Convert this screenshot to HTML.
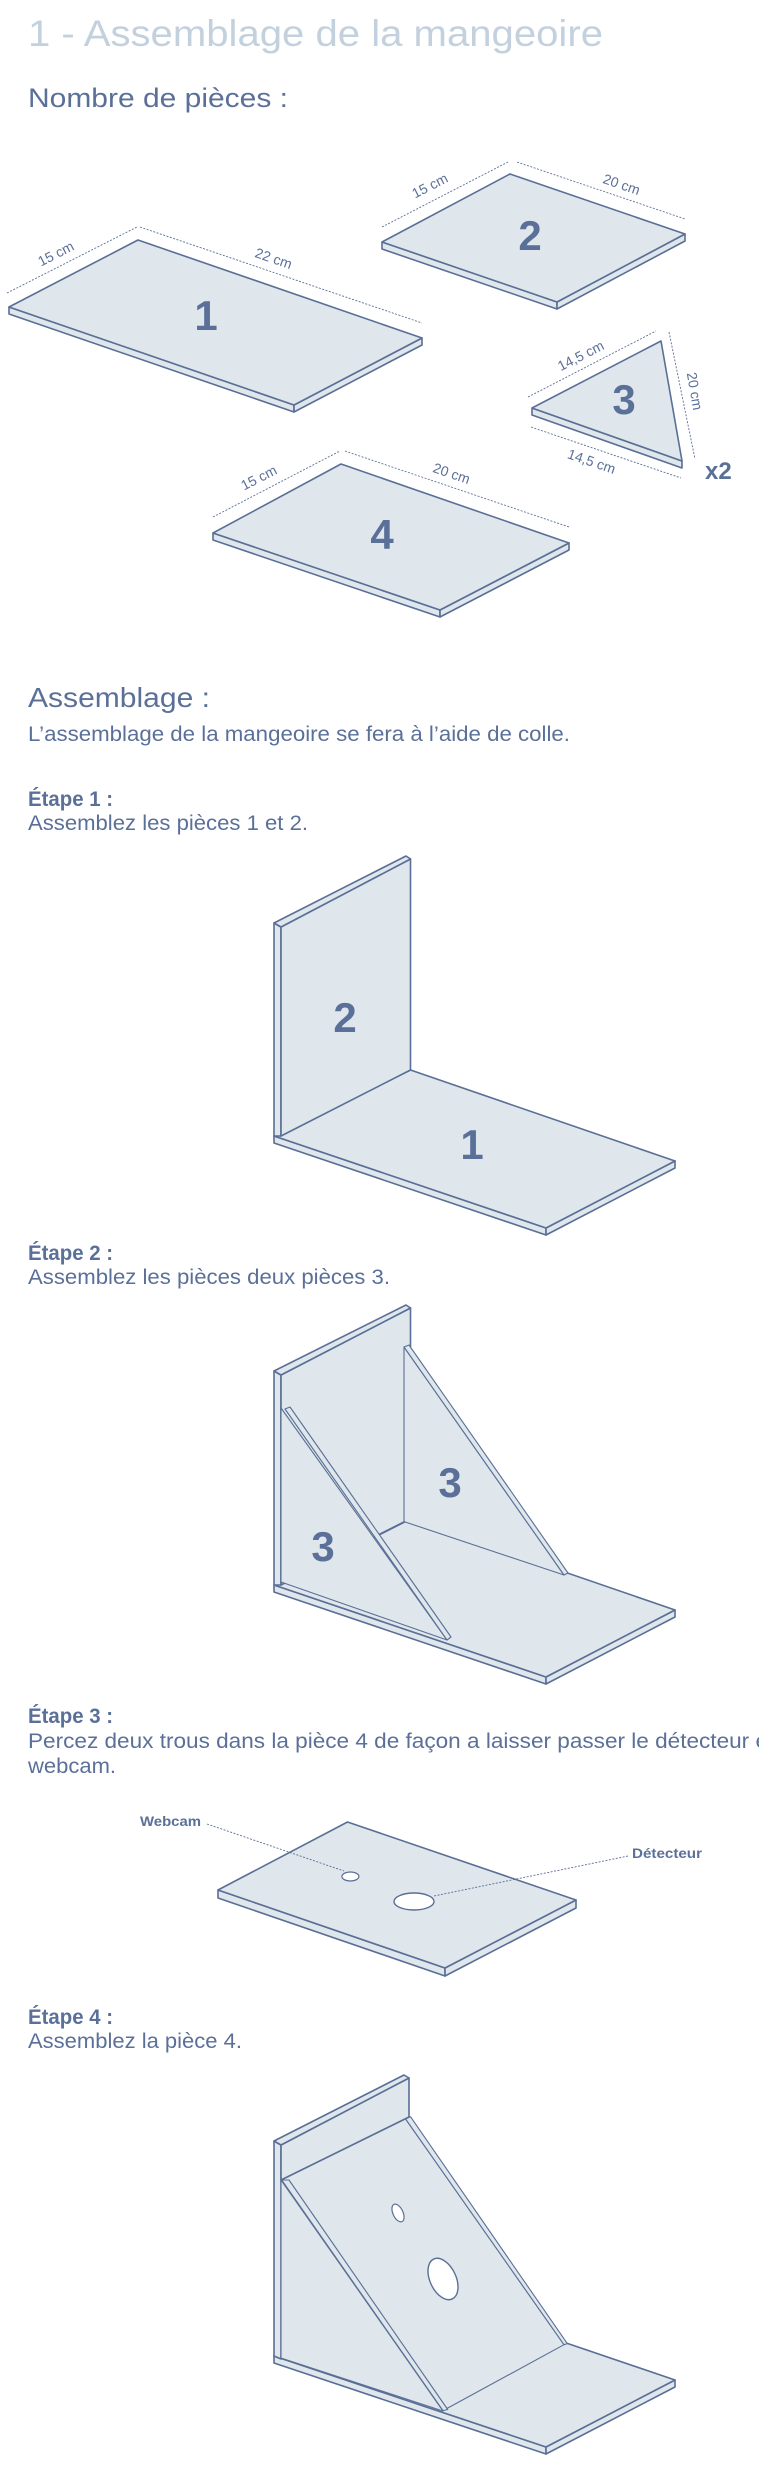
<!DOCTYPE html>
<html><head><meta charset="utf-8"><style>
html,body{margin:0;padding:0;background:#fff;}
svg{display:block;}
.f{fill:#dfe7ec;stroke:#5a6f96;stroke-width:1.6;stroke-linejoin:round;}
.t{fill:#dfe7ec;stroke:#5a6f96;stroke-width:1.1;stroke-linejoin:round;}
.d{stroke:#5a6f96;stroke-width:0.9;stroke-dasharray:2 1.5;fill:none;}
.h{fill:#5b7099;font-family:"Liberation Sans",sans-serif;}
.n{fill:#5b7099;font-family:"Liberation Sans",sans-serif;font-weight:bold;}
</style></head><body>
<svg width="759" height="2474" viewBox="0 0 759 2474" xmlns="http://www.w3.org/2000/svg">
<text x="28" y="46" font-size="37" fill="#c3d1de" font-family="Liberation Sans,sans-serif" textLength="575" lengthAdjust="spacingAndGlyphs">1 - Assemblage de la mangeoire</text>
<text class="h" x="28" y="107" font-size="27" textLength="260" lengthAdjust="spacingAndGlyphs">Nombre de pièces :</text>

<g>
<polygon class="f" points="9,307 294,405 294,412 9,314"/>
<polygon class="f" points="294,405 422,338 422,345 294,412"/>
<polygon class="f" points="9,307 138,240 422,338 294,405"/>
<text class="n" x="206" y="330" font-size="42" text-anchor="middle">1</text>
<line class="d" x1="7" y1="293" x2="137" y2="227"/>
<line class="d" x1="140" y1="227" x2="422" y2="323"/>
<text class="h" font-size="14" transform="translate(58,258) rotate(-27)" text-anchor="middle">15 cm</text>
<text class="h" font-size="14" transform="translate(272,263) rotate(19)" text-anchor="middle">22 cm</text>
</g>
<g>
<polygon class="f" points="382,242 557,302 557,309 382,249"/>
<polygon class="f" points="557,302 685,234 685,241 557,309"/>
<polygon class="f" points="382,242 510,174 685,234 557,302"/>
<text class="n" x="530" y="250" font-size="42" text-anchor="middle">2</text>
<line class="d" x1="382" y1="227" x2="508" y2="162"/>
<line class="d" x1="517" y1="162" x2="685" y2="219"/>
<text class="h" font-size="14" transform="translate(432,190) rotate(-27)" text-anchor="middle">15 cm</text>
<text class="h" font-size="14" transform="translate(620,189) rotate(19)" text-anchor="middle">20 cm</text>
</g>
<g>
<polygon class="f" points="532,408 682,461 682,468 532,415"/>
<polygon class="f" points="532,408 661,341 682,461"/>
<text class="n" x="624" y="414" font-size="42" text-anchor="middle">3</text>
<line class="d" x1="528" y1="397" x2="656" y2="331"/>
<line class="d" x1="669" y1="332" x2="695" y2="459"/>
<line class="d" x1="531" y1="427" x2="681" y2="478"/>
<text class="h" font-size="14" transform="translate(583,360) rotate(-27)" text-anchor="middle">14,5 cm</text>
<text class="h" font-size="14" transform="translate(690,392) rotate(80)" text-anchor="middle">20 cm</text>
<text class="h" font-size="14" transform="translate(590,466) rotate(19)" text-anchor="middle">14,5 cm</text>
<text class="n" x="705" y="479" font-size="24">x2</text>
</g>
<g>
<polygon class="f" points="213,533 440,610 440,617 213,540"/>
<polygon class="f" points="440,610 569,543 569,550 440,617"/>
<polygon class="f" points="213,533 341,464 569,543 440,610"/>
<text class="n" x="382" y="549" font-size="42" text-anchor="middle">4</text>
<line class="d" x1="213" y1="517" x2="340" y2="451"/>
<line class="d" x1="345" y1="451" x2="569" y2="527"/>
<text class="h" font-size="14" transform="translate(261,482) rotate(-27)" text-anchor="middle">15 cm</text>
<text class="h" font-size="14" transform="translate(450,478) rotate(19)" text-anchor="middle">20 cm</text>
</g>

<text class="h" x="28" y="707" font-size="28" textLength="182" lengthAdjust="spacingAndGlyphs">Assemblage :</text>
<text class="h" x="28" y="741" font-size="21" textLength="542" lengthAdjust="spacingAndGlyphs">L’assemblage de la mangeoire se fera à l’aide de colle.</text>

<text class="n" x="28" y="806" font-size="21" textLength="85" lengthAdjust="spacingAndGlyphs">Étape 1 :</text>
<text class="h" x="28" y="830" font-size="21" textLength="280" lengthAdjust="spacingAndGlyphs">Assemblez les pièces 1 et 2.</text>
<g>
<polygon class="f" points="274,1136 546,1228 546,1235 274,1143"/>
<polygon class="f" points="546,1228 675,1161 675,1168 546,1235"/>
<polygon class="f" points="274,1136 410.5,1070 675,1161 546,1228"/>
<polygon class="f" points="274,923 281,927 281,1136 274,1136"/>
<polygon class="f" points="281,927 410.5,859 410.5,1070 281,1136"/>
<polygon class="f" points="274,923 406,856 410.5,859 281,927"/>
<text class="n" x="345" y="1032" font-size="42" text-anchor="middle">2</text>
<text class="n" x="472" y="1159" font-size="42" text-anchor="middle">1</text>
</g>

<text class="n" x="28" y="1260" font-size="21" textLength="85" lengthAdjust="spacingAndGlyphs">Étape 2 :</text>
<text class="h" x="28" y="1284" font-size="21" textLength="362" lengthAdjust="spacingAndGlyphs">Assemblez les pièces deux pièces 3.</text>
<g>
<polygon class="f" points="274,1585 546,1677 546,1684 274,1592"/>
<polygon class="f" points="546,1677 675,1610 675,1617 546,1684"/>
<polygon class="f" points="274,1585 410.5,1519 675,1610 546,1677"/>
<polygon class="f" points="274,1371 281,1375 281,1585 274,1585"/>
<polygon class="f" points="281,1375 410.5,1308 410.5,1519 281,1585"/>
<polygon class="f" points="274,1371 406,1305 410.5,1308 281,1375"/>
<polygon class="t" points="404,1347 404,1521.6 564,1575"/>
<polygon class="t" points="404,1347 409,1345 568,1573 564,1575"/>
<line x1="377.5" y1="1535" x2="404" y2="1521.6" stroke="#5a6f96" stroke-width="1.1"/>
<polygon class="t" points="281,1408 281,1582 447,1640"/>
<polygon class="t" points="285,1409 290,1407 451,1637 447,1640"/>
<text class="n" x="450" y="1497" font-size="42" text-anchor="middle">3</text>
<text class="n" x="323" y="1561" font-size="42" text-anchor="middle">3</text>
</g>

<text class="n" x="28" y="1723" font-size="21" textLength="85" lengthAdjust="spacingAndGlyphs">Étape 3 :</text>
<text class="h" x="28" y="1748" font-size="21" textLength="740" lengthAdjust="spacingAndGlyphs">Percez deux trous dans la pièce 4 de façon a laisser passer le détecteur e</text>
<text class="h" x="28" y="1773" font-size="21" textLength="88" lengthAdjust="spacingAndGlyphs">webcam.</text>
<g>
<polygon class="f" points="218,1890 445,1968 445,1976 218,1898"/>
<polygon class="f" points="445,1968 576,1900 576,1908 445,1976"/>
<polygon class="f" points="218,1890 347.5,1822 576,1900 445,1968"/>
<ellipse cx="350.4" cy="1876.5" rx="8.5" ry="4.5" fill="#fff" stroke="#5a6f96" stroke-width="1.2"/>
<ellipse cx="414" cy="1901.5" rx="20" ry="8.5" fill="#fff" stroke="#5a6f96" stroke-width="1.4"/>
<line class="d" x1="207" y1="1824" x2="344" y2="1871"/>
<line class="d" x1="628" y1="1856" x2="434" y2="1896"/>
<text class="n" x="140" y="1826" font-size="14" textLength="61" lengthAdjust="spacingAndGlyphs">Webcam</text>
<text class="n" x="632" y="1858" font-size="14" textLength="70" lengthAdjust="spacingAndGlyphs">Détecteur</text>
</g>

<text class="n" x="28" y="2024" font-size="21" textLength="85" lengthAdjust="spacingAndGlyphs">Étape 4 :</text>
<text class="h" x="28" y="2048" font-size="21" textLength="214" lengthAdjust="spacingAndGlyphs">Assemblez la pièce 4.</text>
<g>
<polygon class="f" points="274,2356 546,2447 546,2454 274,2363"/>
<polygon class="f" points="546,2447 675,2380 675,2387 546,2454"/>
<polygon class="f" points="274,2356 410.5,2290 675,2380 546,2447"/>
<polygon class="f" points="274,2141 281,2145 281,2359 274,2356"/>
<polygon class="f" points="281,2145 409,2078 409,2117 281,2180"/>
<polygon class="f" points="274,2141 404,2075 409,2078 281,2145"/>
<polygon class="t" points="281,2180 281,2358 443,2411"/>
<polygon class="t" points="281.7,2180 405.6,2119 564,2344.7 443,2410.6"/>
<polygon class="t" points="281.7,2180 289,2180 447.7,2409.5 443,2410.6"/>
<polygon class="t" points="405.6,2119 410.5,2116.7 567.3,2343.6 564,2344.7"/>
<ellipse cx="398" cy="2213" rx="5" ry="9.5" transform="rotate(-25 398 2213)" fill="#fff" stroke="#5a6f96" stroke-width="1.2"/>
<ellipse cx="443" cy="2279" rx="13" ry="22" transform="rotate(-25 443 2279)" fill="#fff" stroke="#5a6f96" stroke-width="1.4"/>
</g>
</svg>
</body></html>
